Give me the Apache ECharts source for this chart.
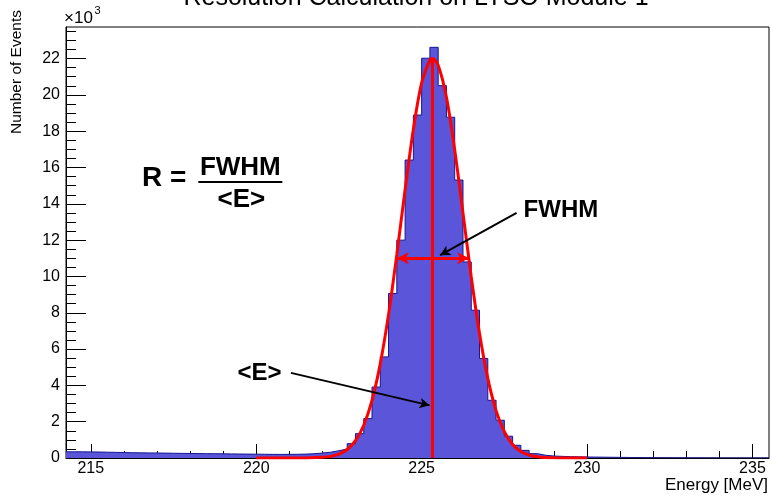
<!DOCTYPE html>
<html><head><meta charset="utf-8">
<script src="https://cdn.jsdelivr.net/npm/echarts@6/dist/echarts.min.js"></script>
<style>html,body{margin:0;padding:0;background:#fff}#c{width:771px;height:496px}</style>
</head><body><div id="c"></div>
<script>
// ---------- data ----------
const binLow = 214.25;
const binWidth = 0.25;
const counts = [
  340,340,335,330,320,310,300,290,285,280,275,270,262,255,250,245,240,235,230,225,220,215,210,205,
  200,198,200,205,215,235,270,320,400,500,790,1340,2170,3910,5570,9060,12000,16410,18890,22020,22620,
  20510,18770,15310,10800,8140,5480,3180,2080,1200,700,420,240,150,110,90,75,65,55,50,45,40,35,30,25,
  20,18,15,12,10,8,7,6,5,4,3,3,2,2,1,1
];
const fitX = [220,220.5,221,221.5,222,222.25,222.5,222.75,223,223.25,223.5,223.75,224,224.25,224.5,224.75,225,225.25,225.33,225.5,225.75,226,226.25,226.5,226.75,227,227.25,227.5,227.75,228,228.25,228.5,228.75,229,229.5,230];
const fitY = [0,0,0,4,36,91,215,469,954,1804,3175,5197,7911,11213,14773,18111,20659,21919,22000,21634,19866,16971,13489,9971,6857,4386,2612,1446,744,357,159,66,25,9,1,0];
const xMajorTicks = [215,220,225,230,235];
const yMajorTicks = [0,2000,4000,6000,8000,10000,12000,14000,16000,18000,20000,22000];
const meanE = 225.33, peakFit = 22000;
const fwhmLow = 224.25, fwhmHigh = 226.44, halfMax = 11000;
const fwhmArrow = [[227.87,13500],[225.56,11170]];
const meanArrow = [[221.05,4690],[225.24,2900]];
const fwhmLabelPos = [229.21,13630];
const meanLabelPos = [220.10,4650];
const formulaPos = [219.52,15200];
const yMax = 23740;
const titleText = 'Resolution Calculation on LYSO Module 1';

// ---------- build ----------
const xMax = binLow + counts.length * binWidth;
const histData = counts.map((c,i)=>[binLow + i*binWidth, c]);
histData.push([xMax, counts[counts.length-1]]);
const fitData = fitX.map((x,i)=>[x, fitY[i]]);
const xMinorTicks = []; for (let v=215; v<=235; v++) xMinorTicks.push(v);
const yMinorTicks = []; for (let v=500; v<yMax; v+=500) yMinorTicks.push(v);
const FONT = 'Liberation Sans, Arial, Helvetica, sans-serif';

const chart = echarts.init(document.getElementById('c'), null, {renderer:'canvas'});
const grid = {left:66, right:2, top:27, bottom:38, show:true, borderColor:'#000', borderWidth:1, backgroundColor:'transparent'};
const baseX = {type:'value', min:binLow, max:xMax, gridIndex:0, position:'bottom', splitLine:{show:false}};
const baseY = {type:'value', min:0, max:yMax, gridIndex:0, position:'left', splitLine:{show:false}};
chart.setOption({
  animation:false,
  grid: grid,
  xAxis: [
    Object.assign({}, baseX, {
      axisLine:{show:true, lineStyle:{color:'#000', width:1}},
      axisTick:{show:true, inside:true, length:14, customValues:xMajorTicks, lineStyle:{color:'#000', width:1}},
      axisLabel:{show:true, customValues:xMajorTicks, color:'#000', fontSize:16, fontFamily:FONT, margin:3}
    }),
    Object.assign({}, baseX, {
      axisLine:{show:false},
      axisTick:{show:true, inside:true, length:7, customValues:xMinorTicks, lineStyle:{color:'#000', width:1}},
      axisLabel:{show:false}
    })
  ],
  yAxis: [
    Object.assign({}, baseY, {
      axisLine:{show:true, lineStyle:{color:'#000', width:1}},
      axisTick:{show:true, inside:true, length:20, customValues:yMajorTicks, lineStyle:{color:'#000', width:1}},
      axisLabel:{show:true, customValues:yMajorTicks, formatter:v=>String(Math.round(v/1000)), color:'#000', fontSize:16, fontFamily:FONT, margin:6}
    }),
    Object.assign({}, baseY, {
      axisLine:{show:false},
      axisTick:{show:true, inside:true, length:10, customValues:yMinorTicks, lineStyle:{color:'#000', width:1}},
      axisLabel:{show:false}
    })
  ],
  series: [
    {
      type:'line', xAxisIndex:0, yAxisIndex:0, step:'end', symbol:'none', data:histData,
      lineStyle:{color:'#16168f', width:1}, areaStyle:{color:'#5a55d9', opacity:1}, silent:true, z:2
    },
    {
      type:'line', xAxisIndex:0, yAxisIndex:0, smooth:0.3, symbol:'none', data:fitData,
      lineStyle:{color:'#ff0000', width:3}, silent:true, z:3,
      markLine:{
        silent:true, animation:false, label:{show:false},
        data:[
          [{coord:[meanE,0], symbol:'none', lineStyle:{color:'#ff0000', width:3, type:'solid'}},{coord:[meanE,peakFit], symbol:'none'}],
          [{coord:[fwhmLow,halfMax], symbol:'arrow', symbolSize:[9,12], lineStyle:{color:'#ff0000', width:3, type:'solid'}},{coord:[fwhmHigh,halfMax], symbol:'arrow', symbolSize:[9,12]}],
          [{coord:fwhmArrow[0], symbol:'none', lineStyle:{color:'#000', width:2, type:'solid'}},{coord:fwhmArrow[1], symbol:'arrow', symbolSize:[8,10]}],
          [{coord:meanArrow[0], symbol:'none', lineStyle:{color:'#000', width:2, type:'solid'}},{coord:meanArrow[1], symbol:'arrow', symbolSize:[8,10]}]
        ]
      }
    }
  ]
});

// ---------- annotations (text) ----------
const P = p => chart.convertToPixel({gridIndex:0}, p);
const f = P(formulaPos), fl = P(fwhmLabelPos), ml = P(meanLabelPos);
const txt = (x,y,text,opt) => ({type:'text', x:x, y:y, z:10, silent:true,
  style:Object.assign({text:text, fill:'#000', fontFamily:FONT, fontSize:16, align:'center', verticalAlign:'middle'}, opt||{})});
chart.setOption({
  graphic:[
    txt(416, -2, titleText, {fontSize:25}),
    txt(64, 18, '\u00d710', {fontSize:17, align:'left'}),
    txt(94.5, 11, '3', {fontSize:11, align:'left'}),
    Object.assign(txt(17, 10, 'Number of Events', {fontSize:15.5, align:'right'}), {rotation:Math.PI/2}),
    txt(768, 485, 'Energy [MeV]', {fontSize:17, align:'right'}),
    txt(f[0]-54, f[1]-4, 'R =', {fontSize:28, fontWeight:'bold', align:'right'}),
    txt(f[0], f[1]-14, 'FWHM', {fontSize:26, fontWeight:'bold'}),
    {type:'line', z:10, silent:true, shape:{x1:f[0]-42, y1:f[1], x2:f[0]+42, y2:f[1]}, style:{stroke:'#000', lineWidth:2}},
    txt(f[0]+1, f[1]+18, '<E>', {fontSize:26, fontWeight:'bold'}),
    txt(fl[0], fl[1], 'FWHM', {fontSize:24, fontWeight:'bold'}),
    txt(ml[0], ml[1], '<E>', {fontSize:24, fontWeight:'bold'})
  ]
});
</script>
</body></html>
